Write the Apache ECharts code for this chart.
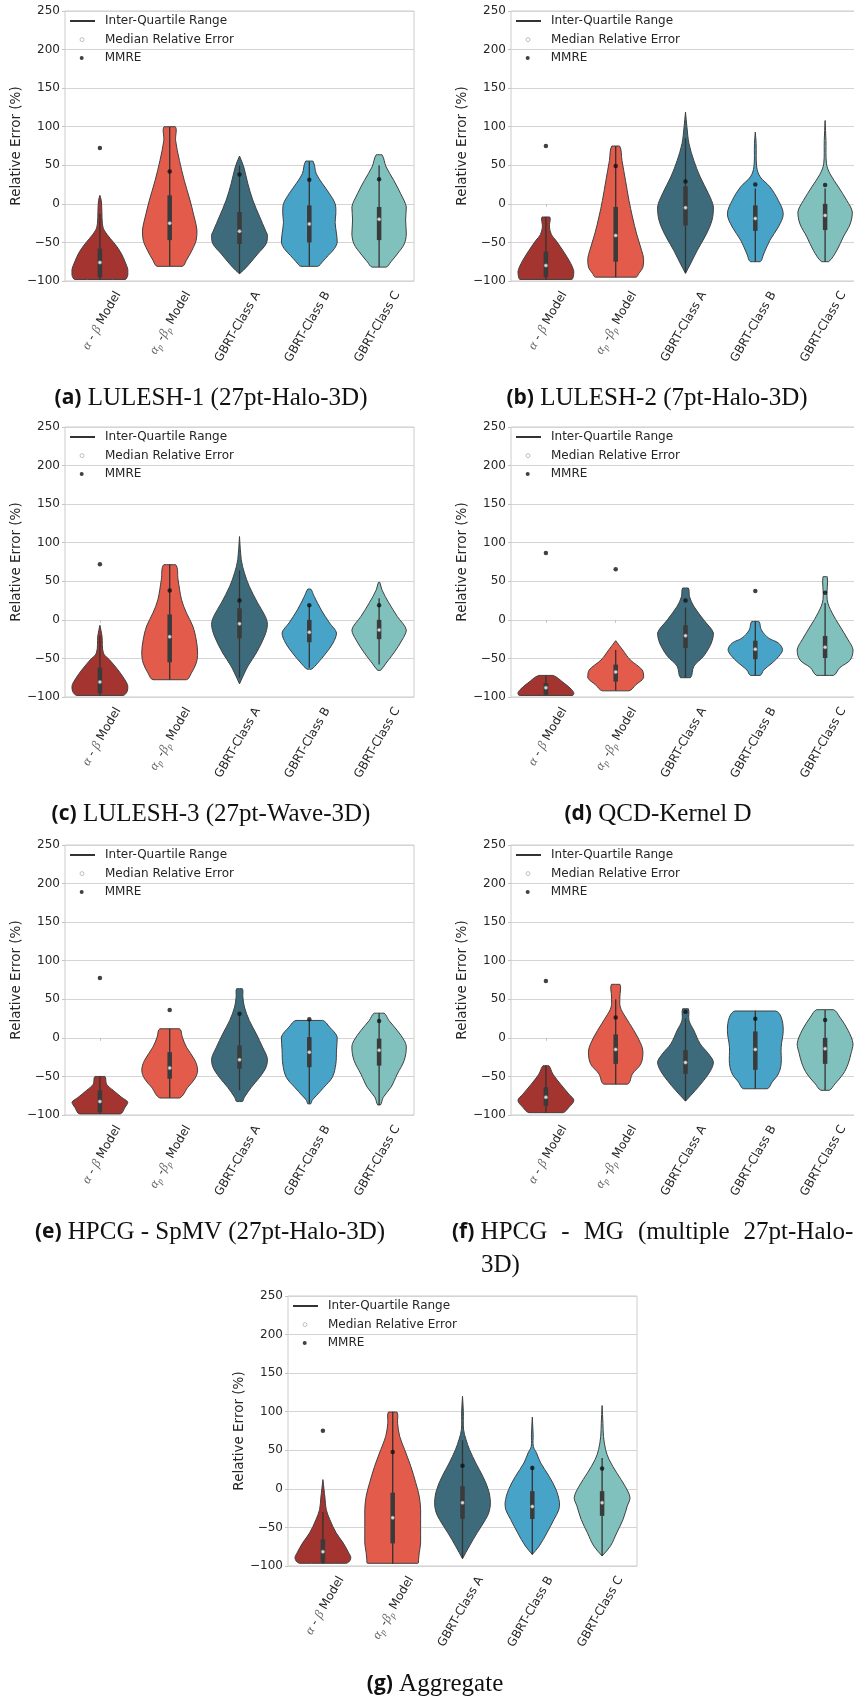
<!DOCTYPE html>
<html>
<head>
<meta charset="utf-8">
<script src="https://cdn.jsdelivr.net/npm/echarts@6/dist/echarts.min.js"></script>
<style>
  html, body { margin: 0; padding: 0; background: #ffffff; }
  #chart { width: 854px; height: 1700px; }
</style>
</head>
<body>
<div id="chart"></div>
<script>
// ---- data ---------------------------------------------------------------
const categories = ['α - β Model', 'αₚ -βₚ Model', 'GBRT-Class A', 'GBRT-Class B', 'GBRT-Class C'];
const yTickValues = [-100, -50, 0, 50, 100, 150, 200, 250];

const captionTags = ['(a)', '(b)', '(c)', '(d)', '(e)', '(f)', '(g)'];
// a double space marks a stretched (justified) word gap
const captionTexts = [
  'LULESH-1 (27pt-Halo-3D)',
  'LULESH-2 (7pt-Halo-3D)',
  'LULESH-3 (27pt-Wave-3D)',
  'QCD-Kernel D',
  'HPCG - SpMV (27pt-Halo-3D)',
  'HPCG  -  MG  (multiple  27pt-Halo-\n3D)',
  'Aggregate'
];

// Violin outlines: [relative error %, half width as a share of the category band], top to bottom
const shapesA = [
  [[11, 0], [4, 0.02], [-10, 0.028], [-25, 0.035], [-34, 0.06], [-45, 0.15], [-55, 0.24], [-65, 0.31], [-75, 0.36], [-85, 0.40], [-92, 0.40], [-96, 0.385], [-98, 0.36]],
  [[100, 0.08], [82, 0.085], [56, 0.14], [30, 0.21], [5, 0.29], [-13, 0.34], [-34, 0.39], [-47, 0.38], [-60, 0.32], [-73, 0.24], [-81, 0.18]],
  [[62, 0], [48, 0.06], [26, 0.12], [5, 0.19], [-17, 0.29], [-34, 0.37], [-41, 0.40], [-52, 0.38], [-65, 0.26], [-78, 0.14], [-86, 0.057], [-90.5, 0]],
  [[55.5, 0.05], [39, 0.10], [26, 0.19], [13, 0.29], [0, 0.37], [-13, 0.38], [-24, 0.37], [-39, 0.39], [-49.5, 0.40], [-58, 0.36], [-67, 0.27], [-75, 0.19], [-81, 0.12]],
  [[63.7, 0.04], [48, 0.10], [30.5, 0.21], [13, 0.31], [-4, 0.39], [-21, 0.38], [-39, 0.39], [-52, 0.36], [-65, 0.26], [-75, 0.17], [-82, 0.10]]
];
const shapesB = [
  [[-17, 0.055], [-30, 0.05], [-40, 0.08], [-47, 0.14], [-60, 0.24], [-73, 0.33], [-82, 0.38], [-88, 0.40], [-95, 0.39], [-98, 0.37]],
  [[75, 0.055], [56, 0.09], [30.5, 0.14], [4.5, 0.19], [-17, 0.24], [-39, 0.30], [-60, 0.37], [-71, 0.40], [-82, 0.39], [-90.5, 0.33], [-95, 0.29]],
  [[119, 0], [100, 0.02], [78, 0.05], [56, 0.12], [35, 0.21], [13, 0.33], [-4, 0.40], [-21, 0.38], [-39, 0.30], [-60, 0.17], [-78, 0.07], [-90, 0]],
  [[93, 0], [78, 0.012], [48, 0.02], [35, 0.07], [22, 0.21], [4.5, 0.33], [-13, 0.40], [-30, 0.33], [-47, 0.21], [-65, 0.12], [-75, 0.07]],
  [[108, 0], [82, 0.012], [52, 0.02], [39, 0.07], [22, 0.19], [4.5, 0.31], [-10.6, 0.39], [-26, 0.36], [-43, 0.26], [-60, 0.17], [-75, 0.05]]
];
const shapesC = [
  [[-7, 0], [-21, 0.03], [-43, 0.05], [-52, 0.14], [-65, 0.26], [-78, 0.36], [-86, 0.40], [-93, 0.39], [-98, 0.33]],
  [[71.5, 0.085], [52, 0.12], [26, 0.17], [9, 0.24], [-8, 0.33], [-26, 0.38], [-43, 0.40], [-56, 0.38], [-69, 0.31], [-77.6, 0.24]],
  [[108, 0], [78, 0.025], [61, 0.07], [43.5, 0.14], [22, 0.26], [4.5, 0.37], [-6, 0.40], [-21, 0.36], [-43, 0.24], [-60, 0.12], [-73, 0.05], [-83, 0]],
  [[40, 0.02], [30.5, 0.07], [13, 0.17], [-4, 0.29], [-17, 0.39], [-30, 0.34], [-43, 0.24], [-56, 0.12], [-64, 0.03]],
  [[48.6, 0.01], [39, 0.04], [22, 0.14], [4.5, 0.26], [-13, 0.39], [-26, 0.33], [-43, 0.21], [-56, 0.10], [-65.5, 0.02]]
];
const shapesD = [
  [[-72, 0.10], [-82, 0.26], [-90.5, 0.37], [-95, 0.40], [-98, 0.38]],
  [[-27, 0], [-39, 0.10], [-52, 0.21], [-65, 0.38], [-75, 0.40], [-84, 0.29], [-92, 0.19]],
  [[41.3, 0.04], [30.5, 0.057], [17.5, 0.12], [0, 0.26], [-17, 0.40], [-30, 0.37], [-47, 0.26], [-60, 0.12], [-75, 0.07]],
  [[-2, 0.05], [-13, 0.086], [-23.6, 0.19], [-30, 0.33], [-38.7, 0.39], [-47, 0.34], [-56, 0.24], [-65, 0.12], [-72, 0.07]],
  [[56, 0.03], [26, 0.03], [9, 0.10], [-8, 0.21], [-26, 0.33], [-39, 0.40], [-52, 0.36], [-62, 0.21], [-72, 0.12]]
];
const shapesE = [
  [[-50, 0.07], [-60, 0.095], [-68, 0.19], [-77, 0.31], [-83.5, 0.40], [-90, 0.36], [-98.6, 0.29]],
  [[11.8, 0.14], [1, 0.18], [-12, 0.24], [-29, 0.36], [-42, 0.40], [-53, 0.36], [-64, 0.26], [-78, 0.14]],
  [[63.8, 0.04], [53, 0.048], [40, 0.07], [22.6, 0.14], [5.3, 0.24], [-12, 0.33], [-27, 0.40], [-38, 0.38], [-51, 0.29], [-64, 0.17], [-77, 0.07], [-82.6, 0.04]],
  [[22.6, 0.19], [14, 0.29], [1, 0.40], [-16, 0.39], [-34, 0.38], [-51, 0.33], [-64, 0.21], [-75, 0.10], [-81, 0.04], [-85.6, 0.02]],
  [[32, 0.07], [22.6, 0.14], [9.6, 0.26], [-3.4, 0.36], [-12, 0.39], [-29, 0.36], [-47, 0.26], [-64, 0.17], [-77, 0.06], [-87, 0.02]]
];
const shapesF = [
  [[-36, 0.04], [-47, 0.10], [-60, 0.21], [-73, 0.33], [-81, 0.40], [-90, 0.33], [-97, 0.24]],
  [[69.4, 0.06], [53, 0.06], [40, 0.065], [27, 0.14], [9.6, 0.26], [-7.7, 0.36], [-18.5, 0.39], [-33.7, 0.36], [-46.7, 0.24], [-60, 0.17]],
  [[37.8, 0.04], [22.6, 0.05], [9.6, 0.12], [-7.7, 0.21], [-20.7, 0.33], [-31.5, 0.40], [-42.3, 0.36], [-55.3, 0.26], [-68.3, 0.14], [-82, 0]],
  [[34.8, 0.29], [27, 0.37], [9.6, 0.40], [-12, 0.37], [-33.7, 0.37], [-46.7, 0.33], [-57.5, 0.24], [-66, 0.17]],
  [[36.5, 0.12], [27, 0.21], [9.6, 0.33], [-7.7, 0.40], [-20.7, 0.37], [-33.7, 0.33], [-46.7, 0.26], [-59.7, 0.14], [-68, 0.06]]
];
const shapesG = [
  [[12, 0], [0, 0.015], [-12, 0.03], [-27, 0.048], [-40, 0.10], [-57, 0.19], [-70, 0.29], [-83, 0.37], [-89, 0.40], [-94, 0.38], [-96.5, 0.33]],
  [[99.6, 0.06], [85, 0.07], [68, 0.10], [51, 0.17], [29, 0.26], [8, 0.33], [-9.5, 0.38], [-27, 0.40], [-50, 0.40], [-70, 0.40], [-83, 0.38], [-92, 0.37], [-96.5, 0.36]],
  [[120, 0], [100, 0.012], [77, 0.015], [64, 0.05], [51, 0.10], [33.6, 0.19], [16.4, 0.29], [-1, 0.37], [-18, 0.40], [-30, 0.38], [-39.7, 0.33], [-57, 0.21], [-74, 0.10], [-90.5, 0]],
  [[93, 0], [70, 0.012], [55, 0.015], [46.6, 0.06], [33.6, 0.12], [16.4, 0.24], [-1, 0.34], [-18, 0.39], [-27, 0.38], [-39.7, 0.31], [-57, 0.21], [-74, 0.10], [-85, 0]],
  [[108, 0], [85, 0.012], [68, 0.02], [51, 0.05], [38, 0.10], [20.7, 0.21], [3.4, 0.33], [-11.6, 0.40], [-22.4, 0.36], [-39.7, 0.30], [-57, 0.21], [-74, 0.12], [-87, 0]]
];
const violinShapes = [shapesA, shapesB, shapesC, shapesD, shapesE, shapesF, shapesG];

// Box statistics, one row per benchmark (a)..(g), one column per model
const q3Values = [
  [-58, 11, -10.6, -2, -4],
  [-62, -4, 22.7, -2, 0],
  [-62, 7, 15, 0, 0],
  [-82, -58, -7, -27, -21],
  [-68, -18.5, -10, 1, -1],
  [-64, 4.4, -16, 8.3, 0],
  [-65.5, -5, 3.4, -3, -3]
];
const q1Values = [
  [-95, -47, -52, -50, -47],
  [-95, -75, -28, -35, -34],
  [-95, -55, -24, -29, -25],
  [-97, -80, -36.5, -51, -49.5],
  [-96.5, -53, -40, -38, -36],
  [-88, -33.7, -46.7, -41.5, -33.7],
  [-95.7, -70.7, -38.8, -39, -35]
];
const medianValues = [
  [-76, -25, -35.6, -26, -20],
  [-80, -41, -5, -19, -15],
  [-80.6, -22, -5, -16, -13],
  [-88, -67.6, -20.5, -38, -35.6],
  [-82.6, -39, -28.5, -18.5, -16],
  [-77, -15, -32, -15, -14],
  [-81.5, -37.5, -18, -23, -18]
];
const mmreValues = [
  [72.4, 42, 38, 31.4, 31.8],
  [75, 49, 29, 25, 24.5],
  [72, 38, 25, 19, 19],
  [86.6, 65.5, 25, 37.4, 35],
  [77.6, 36, 31.3, 24, 21.8],
  [73.7, 26.5, 34, 24.8, 23],
  [75.4, 47.8, 30, 27, 26.3]
];
const whiskerHigh = [
  [-13, 100, 50, 55, 50],
  [-17, 75, 85, 20, 20],
  [-20, 72, 64, 20, 28],
  [-72, -39, 16, -2, 22],
  [-50, 12, 30, 23, 32],
  [-36, 50, 25, 35, 36],
  [-30, 100, 63, 30, 40]
];
const whiskerLow = [
  [-98, -81, -90.5, -81, -82],
  [-98, -95, -90, -75, -75],
  [-98, -77.6, -75, -62, -58],
  [-98, -92, -75, -72, -72],
  [-98.6, -78, -68, -85, -87],
  [-97, -60, -82, -66, -68],
  [-97, -97, -90, -85, -87]
];

// ---- layout & style -----------------------------------------------------
const violinColors = ['#a3342f', '#e35b4b', '#3d6b7b', '#47a3c8', '#80c1be'];
const panelPos = [
  { left: 65, top: 11 }, { left: 511, top: 11 },
  { left: 65, top: 427 }, { left: 511, top: 427 },
  { left: 65, top: 845 }, { left: 511, top: 845 },
  { left: 288, top: 1296 }
];
const PLOT_W = 349, PLOT_H = 270;
const captionPos = [
  { x: 211, y: 398 }, { x: 657, y: 398 },
  { x: 211, y: 814 }, { x: 658, y: 814 },
  { x: 210, y: 1232 }, { x: 452, y: 1215.5, hang: true },
  { x: 435, y: 1684 }
];
const SANS = 'DejaVu Sans';
const INK = '#262626';

const minus = v => (v < 0 ? '\u2212' + Math.abs(v) : String(v));

// Greek letters in italic serif, subscript p as a small lowered glyph
function richCategory(text) {
  let out = '', run = '';
  const flush = () => { if (run) { out += '{t|' + run + '}'; run = ''; } };
  for (const ch of text) {
    if (ch === 'α' || ch === 'β') { flush(); out += '{g|' + ch + '}'; }
    else if (ch === 'ₚ') { flush(); out += '{s|p}'; }
    else run += ch;
  }
  flush();
  return out;
}

// caption line: bold tag, serif body, stretched gaps, hanging indent on later lines
function richCaption(tag, body) {
  return body.split('\n').map((ln, k) => {
    const words = '{t|' + ln.split('  ').join('}{w| }{t|') + '}';
    return (k === 0 ? '{b|' + tag + '}{t| }' : '{i| }') + words;
  }).join('\n');
}

function violinRenderer(shapes) {
  return function (params, api) {
    const idx = api.value(0);
    const outline = shapes[idx];
    const cx = api.coord([idx, 0])[0];
    const band = api.size([1, 0])[0];
    const right = [], left = [];
    outline.forEach(([v, w]) => {
      const y = api.coord([idx, v])[1];
      right.push([cx + w * band, y]);
      left.unshift([cx - w * band, y]);
    });
    const pts = right.concat(left);
    let x0 = Infinity, x1 = -Infinity, y0 = Infinity, y1 = -Infinity;
    pts.forEach(([x, y]) => { x0 = Math.min(x0, x); x1 = Math.max(x1, x); y0 = Math.min(y0, y); y1 = Math.max(y1, y); });
    return {
      type: 'polygon',
      shape: { points: pts, smooth: 0.35, smoothConstraint: [[x0, y0], [x1, y1]] },
      style: { fill: violinColors[idx], stroke: '#404040', lineWidth: 1 }
    };
  };
}

function boxRenderer(params, api) {
  const i = api.value(0);
  const hi = api.coord([i, api.value(1)]);
  const lo = api.coord([i, api.value(2)]);
  const q3 = api.coord([i, api.value(3)]);
  const q1 = api.coord([i, api.value(4)]);
  return {
    type: 'group',
    children: [
      { type: 'line', shape: { x1: hi[0], y1: hi[1], x2: lo[0], y2: lo[1] }, style: { stroke: '#333333', lineWidth: 1.3 } },
      { type: 'rect', shape: { x: q3[0] - 2.25, y: q3[1], width: 4.5, height: q1[1] - q3[1] }, style: { fill: '#3a3a3a' } }
    ]
  };
}

const grid = [], xAxis = [], yAxis = [], series = [], legend = [], title = [];

panelPos.forEach((pos, p) => {
  grid.push({
    left: pos.left, top: pos.top, width: PLOT_W, height: PLOT_H,
    show: true, borderColor: '#cccccc', borderWidth: 1, backgroundColor: 'transparent',
    containLabel: false, outerBoundsMode: 'none'
  });
  xAxis.push({
    type: 'category', gridIndex: p, data: categories, boundaryGap: true,
    axisLine: { show: false },
    axisTick: { show: true, alignWithLabel: true, length: 3, lineStyle: { color: '#c4c4c4' } },
    splitLine: { show: false },
    axisLabel: {
      interval: 0, rotate: 60, margin: 1, padding: [42, 0, 0, 0],
      fontFamily: SANS, fontSize: 12, color: INK,
      formatter: v => richCategory(v),
      rich: {
        t: { fontFamily: SANS, fontSize: 12, color: INK, lineHeight: 16 },
        g: { fontFamily: 'Liberation Serif', fontStyle: 'italic', fontSize: 13, color: '#666666', lineHeight: 16 },
        s: { fontFamily: 'Liberation Serif', fontStyle: 'italic', fontSize: 9, color: '#666666', lineHeight: 9, verticalAlign: 'bottom' }
      }
    }
  });
  yAxis.push({
    type: 'value', gridIndex: p,
    min: yTickValues[0], max: yTickValues[yTickValues.length - 1], interval: yTickValues[1] - yTickValues[0],
    name: 'Relative Error (%)', nameLocation: 'middle', nameGap: 38,
    nameTextStyle: { fontFamily: SANS, fontSize: 13.5, color: INK },
    axisLine: { show: false },
    axisTick: { show: true, length: 3, lineStyle: { color: '#c4c4c4' } },
    axisLabel: { fontFamily: SANS, fontSize: 12, color: INK, margin: 5, formatter: minus },
    splitLine: { show: true, lineStyle: { color: '#d4d4d4', width: 1 } }
  });

  const shapes = violinShapes[p];
  series.push({
    type: 'custom', name: 'Relative Error', xAxisIndex: p, yAxisIndex: p, z: 2, silent: true,
    renderItem: violinRenderer(shapes),
    encode: { x: 0, y: [1, 2] },
    data: categories.map((c, i) => [i, shapes[i][0][0], shapes[i][shapes[i].length - 1][0]])
  });
  series.push({
    type: 'custom', name: 'Inter-Quartile Range', xAxisIndex: p, yAxisIndex: p, z: 3, silent: true,
    itemStyle: { color: '#333333' },
    renderItem: boxRenderer,
    encode: { x: 0, y: [1, 2, 3, 4] },
    data: categories.map((c, i) => [i, whiskerHigh[p][i], whiskerLow[p][i], q3Values[p][i], q1Values[p][i]])
  });
  series.push({
    type: 'scatter', name: 'Median Relative Error', xAxisIndex: p, yAxisIndex: p, z: 4, silent: true,
    symbol: 'circle', symbolSize: 3.5,
    itemStyle: { color: '#ffffff', borderColor: '#808080', borderWidth: 0.6 },
    data: categories.map((c, i) => [i, medianValues[p][i]])
  });
  series.push({
    type: 'scatter', name: 'MMRE', xAxisIndex: p, yAxisIndex: p, z: 5, silent: true,
    symbol: 'circle', symbolSize: 4.5,
    itemStyle: { color: '#111111' },
    data: categories.map((c, i) => [i, mmreValues[p][i]])
  });

  const legendText = { fontFamily: SANS, fontSize: 12, color: INK };
  legend.push({
    left: pos.left + 5, top: pos.top + 10 - 6, padding: 0, selectedMode: false,
    itemWidth: 25, itemHeight: 2,
    textStyle: Object.assign({ padding: [0, 0, 0, 5] }, legendText),
    data: [{ name: 'Inter-Quartile Range', icon: 'rect', itemStyle: { color: '#333333', borderWidth: 0 } }]
  });
  legend.push({
    left: pos.left + 14.7, top: pos.top + 28.6 - 6, padding: 0, selectedMode: false,
    itemWidth: 4, itemHeight: 4,
    textStyle: Object.assign({ padding: [0, 0, 0, 16] }, legendText),
    data: [{ name: 'Median Relative Error', icon: 'circle', itemStyle: { color: '#ffffff', borderColor: '#808080', borderWidth: 0.6 } }]
  });
  legend.push({
    left: pos.left + 14.7, top: pos.top + 47 - 6, padding: 0, selectedMode: false,
    itemWidth: 4, itemHeight: 4,
    textStyle: Object.assign({ padding: [0, 0, 0, 16] }, legendText),
    data: [{ name: 'MMRE', icon: 'circle', itemStyle: { color: '#111111', borderWidth: 0 } }]
  });

  const cp = captionPos[p];
  title.push({
    text: richCaption(captionTags[p], captionTexts[p]), left: cp.x, top: cp.y, padding: 0,
    textAlign: cp.hang ? 'left' : 'center',
    textVerticalAlign: cp.hang ? 'top' : 'middle',
    textStyle: {
      fontWeight: 'normal',
      rich: {
        b: { fontFamily: 'Open Sans', fontWeight: 'bold', fontSize: 21, color: '#111111', lineHeight: 33 },
        t: { fontFamily: 'Liberation Serif', fontWeight: 'normal', fontSize: 25, color: '#111111', lineHeight: 33 },
        w: { width: 14, fontSize: 25, fontWeight: 'normal', lineHeight: 33 },
        i: { width: 29, fontSize: 25, fontWeight: 'normal', lineHeight: 33 }
      }
    }
  });
});

const chart = echarts.init(document.getElementById('chart'), null, { renderer: 'canvas' });
chart.setOption({
  animation: false,
  backgroundColor: '#ffffff',
  textStyle: { fontFamily: SANS },
  title, legend, grid, xAxis, yAxis, series
});
</script>
</body>
</html>
